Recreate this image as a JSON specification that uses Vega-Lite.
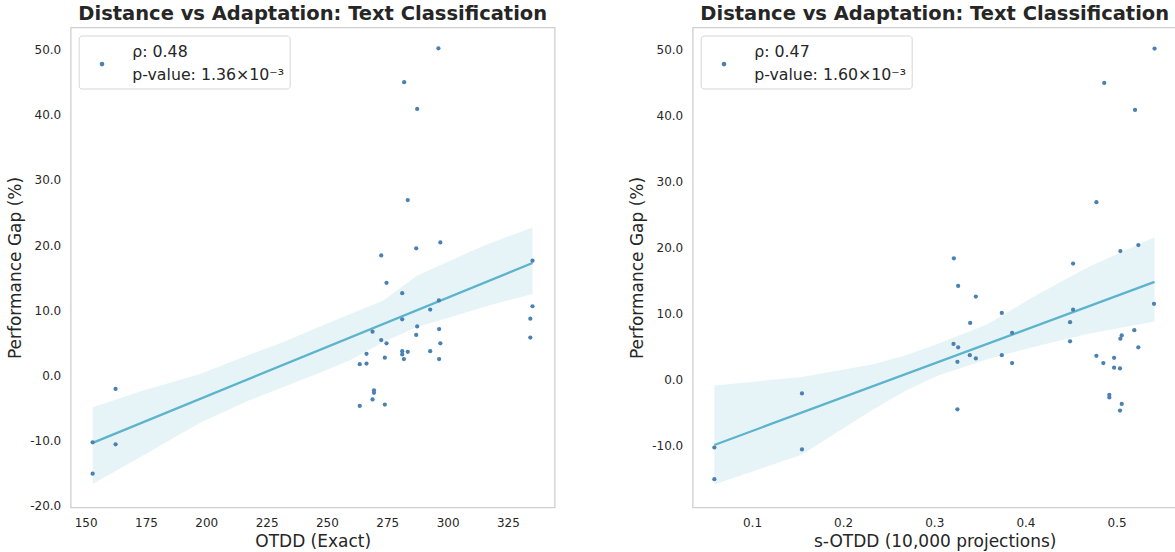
{
  "$schema": "https://vega.github.io/schema/vega-lite/v6.json",
  "background": "white",
  "padding": {"left": 5.7, "top": 2.5, "right": 2, "bottom": 0},
  "spacing": 72,
  "config": {
    "font": "DejaVu Sans",
    "style": {"guide-label": {"lineHeight": 22.7}},
    "view": {"stroke": "#cfcfcf", "strokeWidth": 1.3},
    "axis": {"grid": false, "domain": false, "ticks": false, "tickSize": 0, "labelFont": "DejaVu Sans", "labelFontSize": 12, "labelColor": "#262626", "titleFont": "DejaVu Sans", "titleFontSize": 17, "titleFontWeight": "normal", "titleColor": "#262626", "labelPadding": 10.5},
    "axisY": {"labelPadding": 10, "titlePadding": 5},
    "axisX": {"titlePadding": 5},
    "title": {"font": "DejaVu Sans", "fontSize": 19.5, "fontWeight": "bold", "color": "#262626", "offset": 3, "frame": "group", "anchor": "middle"},
    "legend": {"orient": "top-left", "offset": 8, "labelFont": "DejaVu Sans", "labelFontSize": 15.8, "labelColor": "#262626", "labelBaseline": "line-bottom", "strokeColor": "#d6d6d6", "fillColor": "white", "cornerRadius": 3, "padding": 5.4, "symbolOffset": 10, "labelOffset": 22.3, "symbolType": "circle", "symbolSize": 22, "labelLimit": 400, "titleFontSize": 11, "titlePadding": 4.25, "titleColor": "white"}
  },
  "datasets": {
    "pts": [
      {"otdd": 296.2, "sotdd": 0.5417, "y": 50.2},
      {"otdd": 282.0, "sotdd": 0.4865, "y": 45.0},
      {"otdd": 287.4, "sotdd": 0.5203, "y": 40.9},
      {"otdd": 283.5, "sotdd": 0.4779, "y": 26.9},
      {"otdd": 297.0, "sotdd": 0.5239, "y": 20.4},
      {"otdd": 287.0, "sotdd": 0.5042, "y": 19.5},
      {"otdd": 272.5, "sotdd": 0.3215, "y": 18.4},
      {"otdd": 335.2, "sotdd": 0.4523, "y": 17.6},
      {"otdd": 274.7, "sotdd": 0.3262, "y": 14.2},
      {"otdd": 281.2, "sotdd": 0.3456, "y": 12.6},
      {"otdd": 296.4, "sotdd": 0.5411, "y": 11.5},
      {"otdd": 335.2, "sotdd": 0.4523, "y": 10.6},
      {"otdd": 292.8, "sotdd": 0.3741, "y": 10.1},
      {"otdd": 334.3, "sotdd": 0.4490, "y": 8.7},
      {"otdd": 281.2, "sotdd": 0.3394, "y": 8.6},
      {"otdd": 287.4, "sotdd": 0.5195, "y": 7.5},
      {"otdd": 296.5, "sotdd": 0.3854, "y": 7.1},
      {"otdd": 268.9, "sotdd": 0.5057, "y": 6.7},
      {"otdd": 287.0, "sotdd": 0.5042, "y": 6.2},
      {"otdd": 334.3, "sotdd": 0.4490, "y": 5.8},
      {"otdd": 272.5, "sotdd": 0.3211, "y": 5.4},
      {"otdd": 274.7, "sotdd": 0.3262, "y": 4.9},
      {"otdd": 297.0, "sotdd": 0.5239, "y": 4.9},
      {"otdd": 281.2, "sotdd": 0.3390, "y": 3.7},
      {"otdd": 283.5, "sotdd": 0.4779, "y": 3.6},
      {"otdd": 292.8, "sotdd": 0.3741, "y": 3.7},
      {"otdd": 266.4, "sotdd": 0.4973, "y": 3.3},
      {"otdd": 281.2, "sotdd": 0.3456, "y": 3.2},
      {"otdd": 274.0, "sotdd": 0.3254, "y": 2.7},
      {"otdd": 281.9, "sotdd": 0.4855, "y": 2.5},
      {"otdd": 296.5, "sotdd": 0.3854, "y": 2.5},
      {"otdd": 266.4, "sotdd": 0.4973, "y": 1.8},
      {"otdd": 263.6, "sotdd": 0.5038, "y": 1.7},
      {"otdd": 269.5, "sotdd": 0.4921, "y": -2.3},
      {"otdd": 269.5, "sotdd": 0.4921, "y": -2.7},
      {"otdd": 268.9, "sotdd": 0.5057, "y": -3.7},
      {"otdd": 274.0, "sotdd": 0.3254, "y": -4.5},
      {"otdd": 263.6, "sotdd": 0.5038, "y": -4.7},
      {"otdd": 152.9, "sotdd": 0.0587, "y": -10.3},
      {"otdd": 152.9, "sotdd": 0.0587, "y": -15.1},
      {"otdd": 162.4, "sotdd": 0.1548, "y": -2.1},
      {"otdd": 162.4, "sotdd": 0.1548, "y": -10.6}
    ],
    "bandL": [
      {"bx": 152.9, "lo": -16.7, "hi": -4.9},
      {"bx": 172.5, "lo": -12.6, "hi": -2.5},
      {"bx": 197.4, "lo": -7.3, "hi": 0.2},
      {"bx": 218.1, "lo": -3.8, "hi": 3.2},
      {"bx": 232.0, "lo": -1.8, "hi": 5.1},
      {"bx": 245.8, "lo": 0.2, "hi": 7.3},
      {"bx": 259.6, "lo": 2.3, "hi": 9.4},
      {"bx": 273.4, "lo": 5.1, "hi": 11.5},
      {"bx": 287.3, "lo": 7.4, "hi": 15.3},
      {"bx": 301.1, "lo": 8.9, "hi": 17.6},
      {"bx": 314.9, "lo": 10.5, "hi": 19.9},
      {"bx": 335.2, "lo": 12.5, "hi": 22.7}
    ],
    "bandR": [
      {"bx": 0.0587, "lo": -15.9, "hi": -0.9},
      {"bx": 0.1543, "lo": -11.4, "hi": 0.4},
      {"bx": 0.2319, "lo": -4.6, "hi": 2.3},
      {"bx": 0.267, "lo": -1.8, "hi": 3.6},
      {"bx": 0.3035, "lo": 0.6, "hi": 5.4},
      {"bx": 0.3583, "lo": 3.1, "hi": 8.4},
      {"bx": 0.4132, "lo": 5.1, "hi": 12.9},
      {"bx": 0.468, "lo": 6.9, "hi": 17.0},
      {"bx": 0.5417, "lo": 8.8, "hi": 21.6}
    ]
  },
  "hconcat": [
    {
      "width": 484,
      "height": 480,
      "title": "Distance vs Adaptation: Text Classification",
      "layer": [
        {
          "data": {"name": "bandL"},
          "mark": {"type": "area", "color": "#5cb3cc", "opacity": 0.15},
          "encoding": {
            "x": {"field": "bx", "type": "quantitative", "scale": {"domain": [143.8, 344.4], "nice": false, "zero": false}, "axis": {"title": "OTDD (Exact)", "values": [150, 175, 200, 225, 250, 275, 300, 325], "format": "d"}},
            "y": {"field": "lo", "type": "quantitative", "scale": {"domain": [-20.3, 53.4], "nice": false, "zero": false}, "axis": {"title": "Performance Gap (%)", "values": [-20, -10, 0, 10, 20, 30, 40, 50], "labelExpr": "replace(format(datum.value, '.1f'), '−', '-')"}},
            "y2": {"field": "hi"}
          }
        },
        {
          "data": {"name": "pts"},
          "transform": [{"regression": "y", "on": "otdd"}],
          "mark": {"type": "line", "color": "#5cb3cc", "strokeWidth": 2.3},
          "encoding": {
            "x": {"field": "otdd", "type": "quantitative"},
            "y": {"field": "y", "type": "quantitative"}
          }
        },
        {
          "data": {"name": "pts"},
          "mark": {"type": "point", "filled": true, "size": 18, "opacity": 1},
          "encoding": {
            "x": {"field": "otdd", "type": "quantitative"},
            "y": {"field": "y", "type": "quantitative"},
            "color": {"datum": "left", "type": "nominal", "scale": {"range": ["#4a81b0"]}, "legend": {"title": " ", "labelExpr": "['ρ: 0.48', 'p-value: 1.36×10⁻³']"}}
          }
        }
      ]
    },
    {
      "width": 484,
      "height": 480,
      "title": "Distance vs Adaptation: Text Classification",
      "layer": [
        {
          "data": {"name": "bandR"},
          "mark": {"type": "area", "color": "#5cb3cc", "opacity": 0.15},
          "encoding": {
            "x": {"field": "bx", "type": "quantitative", "scale": {"domain": [0.0349, 0.566], "nice": false, "zero": false}, "axis": {"title": "s-OTDD (10,000 projections)", "values": [0.1, 0.2, 0.3, 0.4, 0.5], "format": ".1f"}},
            "y": {"field": "lo", "type": "quantitative", "scale": {"domain": [-19.4, 53.4], "nice": false, "zero": false}, "axis": {"title": "Performance Gap (%)", "values": [-10, 0, 10, 20, 30, 40, 50], "labelExpr": "replace(format(datum.value, '.1f'), '−', '-')"}},
            "y2": {"field": "hi"}
          }
        },
        {
          "data": {"name": "pts"},
          "transform": [{"regression": "y", "on": "sotdd"}],
          "mark": {"type": "line", "color": "#5cb3cc", "strokeWidth": 2.3},
          "encoding": {
            "x": {"field": "sotdd", "type": "quantitative"},
            "y": {"field": "y", "type": "quantitative"}
          }
        },
        {
          "data": {"name": "pts"},
          "mark": {"type": "point", "filled": true, "size": 18, "opacity": 1},
          "encoding": {
            "x": {"field": "sotdd", "type": "quantitative"},
            "y": {"field": "y", "type": "quantitative"},
            "color": {"datum": "right", "type": "nominal", "scale": {"range": ["#4a81b0"]}, "legend": {"title": " ", "labelExpr": "['ρ: 0.47', 'p-value: 1.60×10⁻³']"}}
          }
        }
      ]
    }
  ],
  "resolve": {"scale": {"color": "independent"}, "legend": {"color": "independent"}}
}
